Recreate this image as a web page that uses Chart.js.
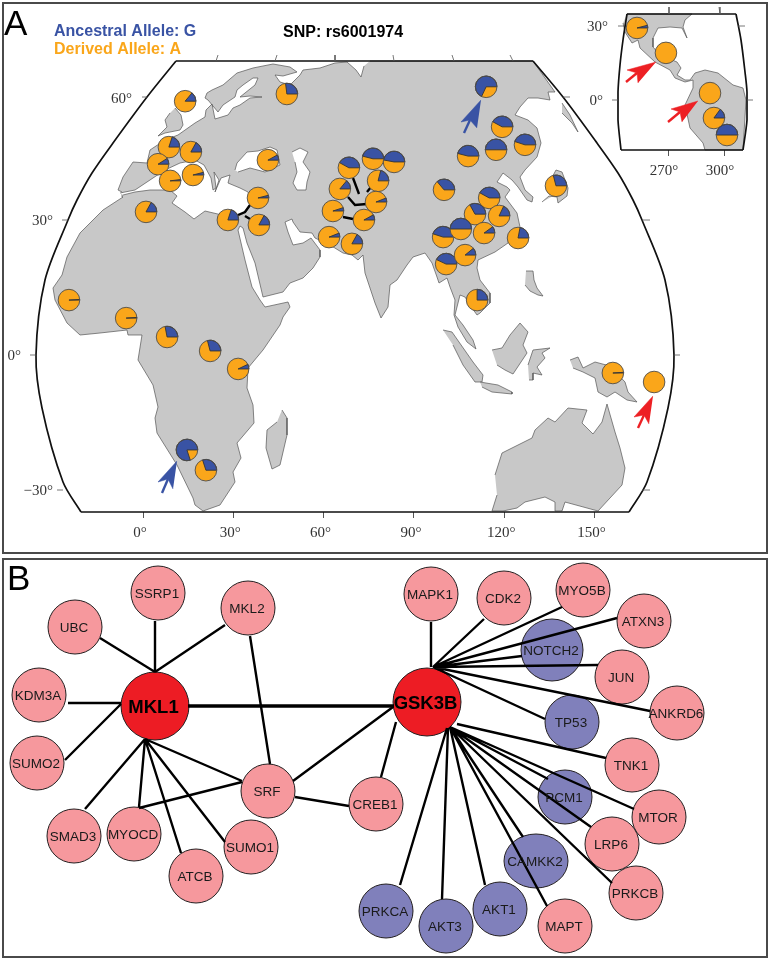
<!DOCTYPE html>
<html><head><meta charset="utf-8">
<script src="https://cdn.jsdelivr.net/npm/chart.js@4/dist/chart.umd.js"></script>
<style>
html,body{margin:0;padding:0;background:#fff;width:770px;height:960px;overflow:hidden}
.box{position:absolute;box-sizing:border-box}
.frame{border:2px solid #4a4a4a}
canvas{display:block}
</style></head><body>
<div class="box frame" style="left:2px;top:2px;width:766px;height:552px"></div>
<div class="box frame" style="left:2px;top:558px;width:766px;height:400px"></div>
<div class="box" style="left:0;top:0;width:770px;height:555px"><canvas id="map"></canvas></div>
<div class="box" style="left:570px;top:0;width:200px;height:190px"><canvas id="inset"></canvas></div>
<div class="box" style="left:0;top:555px;width:770px;height:405px"><canvas id="net"></canvas></div>
<script>
// ---------- Panel A data: sampling sites ----------
const siteLon=[14.0,47.8,8.6,15.9,5.0,9.0,16.6,41.5,1.0,38.2,38.5,28.2,
 63.1,68.4,83.4,76.4,78.1,65.4,77.4,61.8,73.4,69.4,
 114.0,117.3,119.3,126.9,108.0,100.0,137.2,115.0,118.3,110.3,99.7,105.6,113.3,124.6,100.7,107.0,111.0,
 -24.6,-5.6,8.0,22.3,31.6,14.6,20.9,156.1,169.8];
const siteLat=[56.4,58.0,46.2,45.1,42.4,38.7,40.0,43.3,31.8,34.9,28.9,30.0,
 32.0,41.6,42.9,43.6,38.7,36.9,34.0,26.2,30.0,24.7,
 59.6,45.6,50.7,46.7,44.2,36.7,37.6,34.9,30.9,31.3,26.2,28.0,27.1,26.0,20.2,22.2,12.2,
 12.2,8.2,4.0,0.9,-3.1,-21.1,-25.6,-4.0,-6.0];
const siteAncestralG=[.14,.27,.2,.17,.09,.02,.04,.08,.17,.04,.17,.2,
 .05,.42,.47,.46,.21,.14,.06,.06,.08,.17,
 .68,.5,.42,.45,.46,.36,.29,.42,.18,.33,.45,.5,.1,.22,.43,.11,.25,
 .01,.01,.28,.29,.07,.8,.3,.01,0];
const insetLon=[253.4,268.9,292.5,294.6,301.6];
const insetLat=[29.2,19.1,2.8,-7.3,-14.2];
const insetAncestralG=[.04,0,0,.15,.5];
const lonTicks=[0,30,60,90,120,150];
const insetLonTicks=[270,300];
const latLabels=[["60°",132,99],["30°",53,221],["0°",21,356],["−30°",53,491]];
const insetLatLabels=[["30°",608,27],["0°",603,101]];

// ---------- Panel B data: network ----------
const geneNames=["SSRP1","MKL2","UBC","KDM3A","SUMO2","MKL1","SRF","CREB1","SMAD3","MYOCD","ATCB","SUMO1",
 "MAPK1","CDK2","MYO5B","ATXN3","NOTCH2","JUN","ANKRD6","GSK3B","TP53","TNK1","PCM1","MTOR","LRP6","CAMKK2","PRKCB","PRKCA","AKT3","AKT1","MAPT"];
const geneX=[158,248,75,39,37,155,268,376,74,134,196,251,431,504,583,644,552,622,677,427,572,632,565,659,612,536,636,386,446,500,565];
const geneY=[593,608,627,695,763,706,791,804,836,834,876,847,594,598,590,621,650,677,713,702,722,765,797,817,844,861,893,911,926,909,926];
const geneClass=["n","n","n","n","n","h","n","n","n","n","n","n","n","n","n","n","p","n","n","h","p","n","p","n","n","p","n","p","p","p","n"];
// edge end points as they meet the node rims: x1,y1,x2,y2
const edgeList=[[100,638,155,672],[155,621,155,672],[225,625,155,672],[68,703,121,703],[65,760,121,704],
 [85,809,145,739],[139,807,145,739],[181,853,145,739],[225,842,145,739],[242,781,145,739],[139,808,242,782],
 [250,636,270,764],[293,781,393,707],[295,797,349,806],[381,777,396,722],
 [431,622,431,667],[484,619,433,667],[562,607,433,667],[617,618,433,667],[522,656,433,667],[598,665,433,667],[650,711,433,667],[545,719,433,667],
 [606,758,457,724],[634,809,450,727],[548,779,450,727],[591,827,450,727],[612,883,450,727],[547,906,450,727],[523,837,450,727],[485,885,450,727],[442,899,448,728],[400,885,447,728]];
const heavyEdge=[[188,706,394,706]];

// ---------- Base map outlines (figure units) ----------
const landAfroEurasia="370,61 533,61 545,78 555,92 548,92 550,100 538,98 528,98 520,107 515,115 528,120 537,128 541,143 537,157 525,170 520,177 525,190 533,197 532,202 527,200 518,187 512,180 503,173 497,182 507,187 510,190 505,197 517,213 520,227 508,243 495,252 478,260 477,268 480,280 490,293 490,303 480,313 477,315 470,305 465,297 460,295 457,307 455,315 463,325 473,340 476,349 467,342 458,327 454,315 455,300 450,287 447,278 439,283 437,277 432,263 425,253 413,257 407,265 397,280 390,285 388,307 381,318 375,303 365,273 363,255 358,260 352,255 343,253 330,245 315,238 312,233 300,232 293,222 292,219 285,222 288,232 293,245 303,243 311,238 320,250 320,257 313,268 303,278 290,283 283,292 263,297 255,263 247,243 243,228 240,226 238,230 245,260 252,287 260,300 265,307 288,302 290,307 283,317 280,325 263,350 248,368 247,388 253,405 254,423 237,443 241,458 233,472 235,482 220,505 203,511 195,505 193,498 177,465 157,433 155,418 158,407 153,385 138,360 142,335 128,335 127,330 100,333 80,335 67,323 55,300 53,288 62,275 67,257 80,233 103,210 123,197 122,192 118,190 123,177 133,162 147,163 150,150 165,140 178,135 195,123 205,117 206,110 212,104 215,119 228,115 233,108 240,105 250,98 262,97 250,96 240,97 245,93 255,85 258,78 253,78 243,85 237,90 235,97 223,105 218,112 208,100 205,98 207,93 212,90 223,85 237,73 253,68 273,64 290,67 297,72 283,76 275,75 280,82 290,85 300,75 303,70 320,68 335,63 347,62 356,70 361,77 364,66";
const seaMediterranean="120,193 135,190 150,180 165,170 180,163 195,160 204,165 211,178 213,190 216,188 214,172 219,180 215,192 221,178 230,175 228,183 240,188 248,192 252,200 246,212 238,216 222,215 205,211 194,219 185,212 172,203 177,196 170,190 150,190 135,192 123,195";
const seaBlack="235,170 237,163 247,152 258,151 270,147 277,150 280,165 265,172 250,168 238,172";
const seaCaspian="292,152 300,148 308,152 303,162 310,172 307,182 306,190 297,190 293,183 297,172 295,162";
const islands=[
 "175,108 181,115 183,125 180,130 165,133 158,136 167,127 165,120 170,113",
 "282,410 287,418 287,435 280,465 272,469 266,448 267,430 277,422",
 "542,202 549,196 557,197 558,203 567,196 568,188 562,172 556,170 548,185 555,195",
 "562,103 570,115 578,132 572,123 562,113",
 "526,271 533,271 534,280 537,288 543,296 538,295 530,291 525,285",
 "443,330 452,332 473,362 483,375 482,382 475,382 463,365 453,345",
 "480,382 498,385 512,392 512,394 492,392 482,387",
 "492,350 502,348 510,335 520,323 528,332 523,345 527,353 513,374 505,370 497,365",
 "528,365 533,350 550,348 542,353 545,358 537,367 542,375 533,373 533,380 529,380",
 "570,360 578,357 583,368 595,362 610,366 625,382 628,392 637,402 627,400 615,392 607,397 598,392 595,378 583,372 573,368",
 "495,475 502,453 532,438 535,430 548,418 555,422 568,408 587,410 582,423 593,434 602,422 607,404 615,432 620,448 625,468 622,485 598,511 565,502 562,511 555,511 555,502 545,497 525,502 517,508 503,511 492,511 497,495"];
const frameLeft="176,61 147,97 113,143 92,173 77,200 68,220 45,280 36,355 42,408 63,482 81,512";
const frameRight="533,61 563,97 597,143 618,173 633,200 642,220 665,280 674,355 668,408 647,482 629,512";
const frameEdges=[[176,61,533,61],[81,512,629,512]];
const mapTickMarks=[[218,55,216,61],[277,55,275,61],[335,55,335,61],[393,55,394,61],[452,55,454,61],[510,55,513,61],
 [142,97,147,97],[62,220,68,220],[30,355,36,355],[57,490,63,490],[563,97,570,97],[642,220,650,220],[674,355,680,355],[642,490,650,490]];
const connectors=[[353,178,359,194],[371,187,367,192],[348,197,355,205,367,204],[343,217,353,219],[238,215,245,212,250,205],[245,216,250,219]];
const arrowsMain=[{c:"#3953a4",p:"481,100 461,122 470,120 477,128",t:"470,120 464,133"},
 {c:"#3953a4",p:"177,461 158,482 168,479 173,489",t:"168,479 162,493"},
 {c:"#ed2024",p:"653,396 634,417 644,415 649,424",t:"644,415 638,428"}];
const insetLand="627,14 692,14 685,20 683,27 687,38 682,28 670,27 658,28 653,38 653,47 660,55 677,62 681,68 677,75 685,80 690,80 695,73 705,70 718,73 733,85 743,88 746,100 743,150 705,150 703,143 690,128 685,105 693,88 693,80 685,82 675,78 670,70 655,62 640,48 638,40 632,43 625,32 623,23";
const insetLeft="627,14 623,40 620,65 618,92 618,120 621,150";
const insetRight="736,14 741,40 745,72 747,92 747,120 743,150";
const insetEdges=[[627,14,736,14],[621,150,743,150]];
const insetTickMarks=[[669,7,669,14],[719,7,720,14],[618,26,624,26],[612,100,618,100],[738,26,745,26],[747,100,753,100]];
const arrowsInset=[{c:"#ed2024",p:"656,62 627,70 637,73 638,83",t:"637,73 626,82"},
 {c:"#ed2024",p:"698,101 671,109 680,112 682,122",t:"680,112 668,122"}];

const LAND="#c8c8c8",COAST="#555",ORANGE="#faa61a",BLUE="#3953a4";
const parse=s=>s.trim().split(/\s+/).map(q=>q.split(",").map(Number));

// pie marks as a dataset type: each point of the data is a site, drawn through the scales
class SitePies extends Chart.ScatterController{
  draw(){
    const ctx=this.chart.ctx,ds=this.getDataset(),r=ds.pieRadius;
    this.getMeta().data.forEach((el,i)=>{
      const {x,y}=el,g=ds.data[i].g,end=(1-g)*2*Math.PI;
      ctx.save();
      ctx.lineWidth=.9;ctx.strokeStyle="#4d4d4d";
      ctx.beginPath();ctx.arc(x,y,r,0,2*Math.PI);ctx.fillStyle=ORANGE;ctx.fill();
      if(g>0){
        ctx.beginPath();ctx.moveTo(x,y);ctx.arc(x,y,r,end,2*Math.PI);ctx.closePath();
        ctx.fillStyle=BLUE;ctx.fill();ctx.strokeStyle="#333";ctx.stroke();
      }
      ctx.strokeStyle="#4d4d4d";ctx.beginPath();ctx.arc(x,y,r,0,2*Math.PI);ctx.stroke();
      ctx.restore();
    });
  }
}
SitePies.id="sitePies";
SitePies.defaults=Object.assign({},Chart.ScatterController.defaults);
SitePies.overrides=Chart.ScatterController.overrides;
Chart.register(SitePies);

function lineDs(data,o){return Object.assign({type:"scatter",data,showLine:true,pointRadius:0,borderWidth:1,tension:0,clip:false,spanGaps:false,fill:false},o);}
function segs(list,conv){const out=[];list.forEach(s=>{for(let i=0;i<s.length;i+=2)out.push(conv([s[i],s[i+1]]));out.push({x:NaN,y:NaN});});return out;}
function orderDs(a){return a.map((d,i)=>Object.assign(d,{order:a.length-i}));}
const baseOpts={responsive:false,animation:false,events:[],plugins:{legend:{display:false},tooltip:{enabled:false},title:{display:false}}};

function makeMapChart(id,w,h,pad,axisH,xr,yr,ticks,labelOffset,datasets,plugin){
  const c=document.getElementById(id);c.width=w;c.height=h;
  return new Chart(c,{type:"scatter",data:{datasets:orderDs(datasets)},plugins:[plugin],
    options:Object.assign({},baseOpts,{layout:{padding:pad,autoPadding:false},scales:{
      x:{type:"linear",min:xr[0],max:xr[1],border:{display:false},
        grid:{drawOnChartArea:false,drawTicks:true,tickLength:6,color:"#555",lineWidth:1},
        afterBuildTicks:s=>{s.ticks=ticks.map(v=>({value:v}));},
        afterFit:s=>{s.height=axisH;},
        ticks:{autoSkip:false,maxRotation:0,padding:6,labelOffset,color:"#333",font:{family:"'Liberation Serif'",size:15},callback:v=>v+"°"}},
      y:{type:"linear",min:yr[0],max:yr[1],display:false}}})});
}

// --------- main map ----------
const mapPt=([x,y])=>({x:(x-143)/3.01,y:(355-y)/4.5});
const poly=(s,conv,fill,stroke,w)=>lineDs(parse(s).map(conv),{fill:"shape",backgroundColor:fill,borderColor:stroke,borderWidth:w});
const coastDs=(s,conv)=>poly(s,conv,LAND,COAST,.7);
const seaDs=(s,conv)=>poly(s,conv,"#fff",COAST,.7);
const curveDs=(s,conv)=>lineDs(parse(s).map(conv),{borderColor:"#111",borderWidth:1.7,tension:.3});
function arrowDs(list,conv){const o=[];list.forEach(a=>{
  o.push(lineDs(parse(a.t).map(conv),{borderColor:a.c,borderWidth:2.4}));
  o.push(poly(a.p,conv,a.c,a.c,.5));});return o;}

const mainDatasets=[
  coastDs(landAfroEurasia,mapPt),
  seaDs(seaMediterranean,mapPt),seaDs(seaBlack,mapPt),seaDs(seaCaspian,mapPt),
  ...islands.map(s=>coastDs(s,mapPt)),
  curveDs(frameLeft,mapPt),curveDs(frameRight,mapPt),
  lineDs(segs(frameEdges,mapPt),{borderColor:"#111",borderWidth:1.7}),
  lineDs(segs(mapTickMarks,mapPt),{borderColor:"#555",borderWidth:.8}),
  lineDs(segs(connectors,mapPt),{borderColor:"#000",borderWidth:2.4}),
  ...arrowDs(arrowsMain,mapPt),
  {type:"sitePies",pieRadius:10.8,clip:false,pointRadius:0,
   data:siteLon.map((x,i)=>({x,y:siteLat[i],g:siteAncestralG[i]}))}
];
const mapTexts={id:"mapTexts",afterDatasetsDraw(ch){
  const c=ch.ctx;c.save();c.textBaseline="alphabetic";
  c.fillStyle="#000";c.font="35px 'Liberation Sans'";c.textAlign="left";c.fillText("A",4,35);
  c.font="bold 16px 'Liberation Sans'";
  c.fillStyle=BLUE;c.fillText("Ancestral Allele: G",54,36);
  c.fillStyle=ORANGE;c.fillText("Derived Allele: A",54,54);
  c.fillStyle="#000";c.fillText("SNP: rs6001974",283,37);
  c.font="15px 'Liberation Serif'";c.fillStyle="#333";c.textAlign="right";c.textBaseline="middle";
  latLabels.forEach(([t,x,y])=>c.fillText(t,x,y));
  c.restore();
}};
const chartMap=makeMapChart("map",770,555,{left:10,right:70,top:50,bottom:0},43,
  [(10-143)/3.01,(700-143)/3.01],[(355-512)/4.5,(355-50)/4.5],lonTicks,-3,mainDatasets,mapTexts);

// --------- inset map ----------
const insetPt=([x,y])=>({x:270+(x-668)/1.867,y:(100-y)/2.467});
const insetDatasets=[
  coastDs(insetLand,insetPt),
  curveDs(insetLeft,insetPt),curveDs(insetRight,insetPt),
  lineDs(segs(insetEdges,insetPt),{borderColor:"#111",borderWidth:1.7}),
  lineDs(segs(insetTickMarks,insetPt),{borderColor:"#555",borderWidth:.8}),
  ...arrowDs(arrowsInset,insetPt),
  {type:"sitePies",pieRadius:10.8,clip:false,pointRadius:0,
   data:insetLon.map((x,i)=>({x,y:insetLat[i],g:insetAncestralG[i]}))}
];
const insetTexts={id:"insetTexts",afterDatasetsDraw(ch){
  const c=ch.ctx;c.save();c.font="15px 'Liberation Serif'";c.fillStyle="#333";c.textAlign="right";c.textBaseline="middle";
  insetLatLabels.forEach(([t,x,y])=>c.fillText(t,x-570,y));c.restore();
}};
makeMapChart("inset",200,190,{left:48,right:23,top:14,bottom:0},40,
  [270+(618-668)/1.867,270+(747-668)/1.867],[(100-150)/2.467,(100-14)/2.467],insetLonTicks,-4,insetDatasets,insetTexts);

// --------- network ----------
const classColor={n:"#f6989d",h:"#ed1c24",p:"#8080bb"};
function ellipseNode(rx,ry,color){
  const k=document.createElement("canvas");k.width=2*rx+2;k.height=2*ry+2;
  const q=k.getContext("2d");q.beginPath();q.ellipse(rx+1,ry+1,rx,ry,0,0,2*Math.PI);
  q.fillStyle=color;q.fill();q.lineWidth=1;q.strokeStyle="#231f20";q.stroke();return k;
}
const camkk2=ellipseNode(32,27,classColor.p);
const nodeRadius=i=>geneClass[i]==="h"?34:(geneNames[i]==="NOTCH2"?31:27);
const netCanvas=document.getElementById("net");netCanvas.width=770;netCanvas.height=405;
const sameScale=([x,y])=>({x,y});
const netTexts={id:"netTexts",afterDatasetsDraw(ch){
  const c=ch.ctx,sx=ch.scales.x,sy=ch.scales.y;c.save();
  c.fillStyle="#000";c.font="35px 'Liberation Sans'";c.textAlign="left";c.textBaseline="alphabetic";c.fillText("B",7,35);
  c.textAlign="center";c.textBaseline="middle";
  geneNames.forEach((n,i)=>{
    const hub=geneClass[i]==="h";
    c.font=(hub?"bold 18.5px":"13.5px")+" 'Liberation Sans'";c.fillStyle=hub?"#000":"#1a1a1a";
    c.fillText(n,sx.getPixelForValue(geneX[i])-(hub?1.5:1),sy.getPixelForValue(geneY[i])+1.5);
  });c.restore();
}};
new Chart(netCanvas,{type:"scatter",plugins:[netTexts],data:{datasets:orderDs([
  {type:"scatter",clip:false,data:geneX.map((x,i)=>({x,y:geneY[i]})),
   pointRadius:geneX.map((_,i)=>nodeRadius(i)),
   pointStyle:geneNames.map(n=>n==="CAMKK2"?camkk2:"circle"),
   pointBackgroundColor:geneClass.map(k=>classColor[k]),pointBorderColor:"#231f20",pointBorderWidth:1},
  lineDs(segs(edgeList,sameScale),{borderColor:"#000",borderWidth:2.4}),
  lineDs(segs(heavyEdge,sameScale),{borderColor:"#000",borderWidth:3.4})
])},options:Object.assign({},baseOpts,{layout:{padding:0,autoPadding:false},scales:{
  x:{type:"linear",min:0,max:770,display:false},
  y:{type:"linear",min:555,max:960,reverse:true,display:false}}})});
</script>
</body></html>
